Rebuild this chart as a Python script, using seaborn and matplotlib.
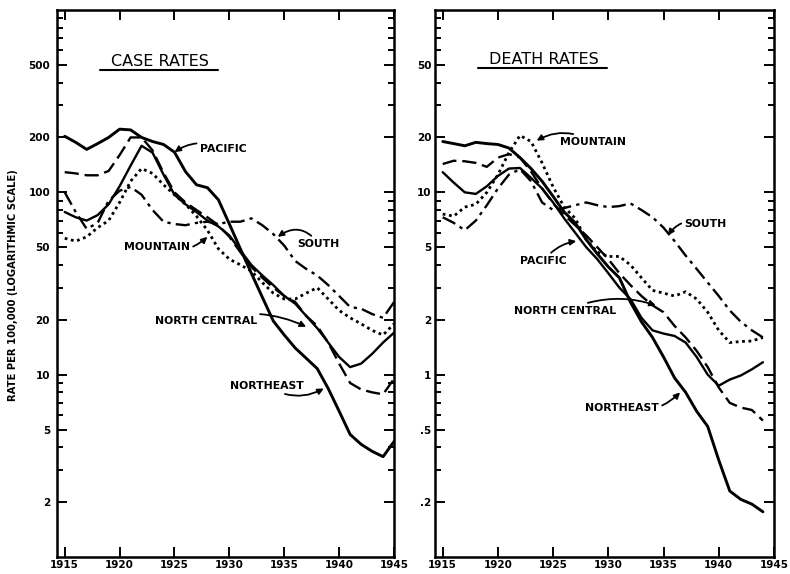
import matplotlib
matplotlib.use("Agg")
import matplotlib.pyplot as plt
import pandas as pd
import seaborn as sns
from matplotlib.lines import Line2D
from matplotlib.ticker import NullFormatter

# ---- data (rate per 100,000) ----
case_years = list(range(1915, 1946))
death_years = list(range(1915, 1945))

case_northeast = [203, 188, 172, 185, 200, 222, 220, 200, 190, 183, 166, 130, 110, 106, 91,
                  67, 49, 36, 26.6, 19.7, 16.5, 14, 12.3, 10.8, 8.4, 6.3, 4.7, 4.15, 3.8, 3.55, 4.3]
case_north_central = [129, 127, 124, 124, 131, 160, 200, 200, 170, 128, 100, 88, 80, 73, 66,
                      57, 47, 39, 34, 30, 27, 25, 21, 18.5, 15, 11.5, 9, 8.3, 8, 7.8, 9.5]
case_south = [100, 78, 63, 68, 90, 102, 107, 97, 80, 69, 67, 66, 68, 69, 67,
              69, 69, 72, 66, 59, 51, 42, 38, 35, 31, 27, 23.5, 23, 21.5, 20.5, 25]
case_mountain = [56, 54, 57, 64, 70, 88, 115, 135, 127, 110, 97, 86, 74, 62, 49,
                 43, 40, 37, 32, 28, 26, 26, 28, 30, 26, 22.5, 20.5, 19, 17.5, 16.5, 19]
case_pacific = [78, 73, 70, 75, 86, 108, 140, 180, 165, 125, 97, 86, 78, 70, 65,
                58, 48, 40, 35, 31, 27, 24.5, 21, 18, 15, 12.5, 11, 11.5, 13, 15, 17]

death_northeast = [19, 18.5, 18, 18.8, 18.5, 18.3, 17.5, 15.5, 13.5, 11.5, 9.5, 7.8, 6.8, 5.5, 4.6,
                   3.9, 3.4, 2.5, 1.95, 1.6, 1.25, 0.96, 0.8, 0.63, 0.52, 0.34, 0.23, 0.207, 0.195, 0.177]
death_north_central = [14.3, 14.9, 14.8, 14.5, 13.8, 15.5, 16.2, 15.5, 13, 10.5, 8.7, 7.5, 6.6, 5.8, 5.0,
                       4.3, 3.6, 3.1, 2.7, 2.4, 2.2, 1.85, 1.6, 1.35, 1.1, 0.85, 0.7, 0.66, 0.64, 0.56]
death_south = [7.3, 6.8, 6.2, 7.0, 8.5, 10.5, 12.5, 13.4, 11.5, 8.8, 8.0, 8.2, 8.5, 8.8, 8.5,
               8.3, 8.4, 8.7, 8.0, 7.3, 6.4, 5.4, 4.5, 3.8, 3.2, 2.7, 2.25, 1.95, 1.75, 1.6]
death_mountain = [7.6, 7.4, 8.3, 8.6, 10, 12.5, 16.5, 20.5, 19, 14.5, 10.7, 8.3, 7.2, 5.5, 4.7,
                  4.45, 4.45, 4.0, 3.4, 2.9, 2.8, 2.7, 2.85, 2.6, 2.2, 1.75, 1.5, 1.52, 1.53, 1.6]
death_pacific = [12.9, 11.3, 10, 9.8, 10.8, 12.3, 13.5, 13.6, 12, 10.5, 8.8, 7.2, 6.0, 5.0, 4.3,
                 3.6, 3.0, 2.6, 2.05, 1.75, 1.68, 1.63, 1.5, 1.25, 1.0, 0.87, 0.94, 0.99, 1.07, 1.17]

case_ticks = [2, 5, 10, 20, 50, 100, 200, 500]
case_labels = ["2", "5", "10", "20", "50", "100", "200", "500"]
death_ticks = [0.2, 0.5, 1, 2, 5, 10, 20, 50]
death_labels = [".2", ".5", "1", "2", "5", "10", "20", "50"]
year_ticks = [1915, 1920, 1925, 1930, 1935, 1940, 1945]

case = {"Northeast": case_northeast, "North Central": case_north_central,
        "South": case_south, "Mountain": case_mountain, "Pacific": case_pacific}
death = {"Northeast": death_northeast, "North Central": death_north_central,
         "South": death_south, "Mountain": death_mountain, "Pacific": death_pacific}

styles = {
    "Northeast": dict(linewidth=2.1, linestyle="-"),
    "Pacific": dict(linewidth=1.7, linestyle="-"),
    "North Central": dict(linewidth=1.7, linestyle=(0, (6, 2.5))),
    "South": dict(linewidth=1.7, linestyle=(0, (6, 2.2, 1.4, 2.2))),
    "Mountain": dict(linewidth=2.0, linestyle=(0, (1, 1.3))),
}


def long_form(years, table):
    frames = [pd.DataFrame({"year": years, "rate": vals, "region": name})
              for name, vals in table.items()]
    return pd.concat(frames, ignore_index=True)


def style_axis(ax, ticks, labels, lo, pad):
    ax.set_yscale("log")
    ax.set_ylim(lo, lo * 1000)
    ax.set_xlim(1914.3, 1945.0)
    decades = [lo, lo * 10, lo * 100]
    minor = [m * d for d in decades for m in (3, 4, 6, 7, 8, 9)]
    ax.set_yticks(ticks)
    ax.set_yticklabels(labels)
    ax.set_yticks(minor, minor=True)
    ax.yaxis.set_minor_formatter(NullFormatter())
    ax.set_xticks(year_ticks)
    ax.set_xticklabels([str(y) for y in year_ticks])
    ax.tick_params(which="both", direction="in", top=True, right=True,
                   bottom=True, left=True, width=1.4, color="black",
                   labelcolor="black")
    ax.tick_params(which="major", length=7)
    ax.tick_params(which="minor", length=4.5)
    ax.tick_params(axis="x", pad=2.5)
    ax.tick_params(axis="y", pad=pad)
    for lab in ax.get_xticklabels() + ax.get_yticklabels():
        lab.set_fontweight("bold")
        lab.set_fontsize(7.5)
    for sp in ax.spines.values():
        sp.set_linewidth(1.8)
        sp.set_color("black")
    ax.set_xlabel("")
    ax.set_ylabel("")
    ax.grid(False)


def title(ax, text, x, y, x0, x1, yl):
    ax.text(x, y, text, transform=ax.transAxes, ha="center", va="center",
            fontsize=11.5, color="black")
    ax.add_line(Line2D([x0, x1], [yl, yl], transform=ax.transAxes,
                       color="black", linewidth=1.5))


def tag(ax, text, xytext, xy, ha, rad):
    ax.annotate(text, xy=xy, xytext=xytext, ha=ha, va="center",
                fontsize=7.8, fontweight="bold", color="black",
                arrowprops=dict(arrowstyle="-|>,head_length=0.45,head_width=0.22",
                                color="black", lw=1.3, shrinkA=0, shrinkB=0,
                                connectionstyle=f"arc3,rad={rad}"))


sns.set_style("ticks")
plt.rcParams["font.family"] = ["DejaVu Sans"]
plt.rcParams["text.color"] = "black"

fig = plt.figure(figsize=(7.9, 5.74), dpi=100)
ax_case = fig.add_axes([0.0722, 0.0296, 0.4266, 0.953])
ax_death = fig.add_axes([0.5506, 0.0296, 0.4291, 0.953])

case_df = long_form(case_years, case)
death_df = long_form(death_years, death)

for name in case:
    sns.lineplot(data=case_df[case_df["region"] == name], x="year", y="rate",
                 color="black", errorbar=None, ax=ax_case, **styles[name])
    sns.lineplot(data=death_df[death_df["region"] == name], x="year", y="rate",
                 color="black", errorbar=None, ax=ax_death, **styles[name])

style_axis(ax_case, case_ticks, case_labels, 1, 5)
style_axis(ax_death, death_ticks, death_labels, 0.1, 2.5)

title(ax_case, "CASE RATES", 0.306, 0.905, 0.128, 0.478, 0.891)
title(ax_death, "DEATH RATES", 0.322, 0.909, 0.127, 0.507, 0.894)

tag(ax_case, "PACIFIC", (1927.3, 173), (1925.0, 166), "left", 0.3)
tag(ax_case, "SOUTH", (1936.2, 52), (1934.4, 57), "left", 0.5)
tag(ax_case, "MOUNTAIN", (1926.4, 50), (1928.0, 57), "right", 0.3)
tag(ax_case, "NORTH CENTRAL", (1932.5, 19.7), (1937.0, 18.3), "right", -0.2)
tag(ax_case, "NORTHEAST", (1936.8, 8.7), (1938.6, 8.4), "right", 0.3)

tag(ax_death, "MOUNTAIN", (1925.6, 18.8), (1923.5, 19.2), "left", 0.3)
tag(ax_death, "SOUTH", (1936.9, 6.7), (1935.4, 5.8), "left", 0.4)
tag(ax_death, "PACIFIC", (1922.0, 4.2), (1927.1, 5.4), "left", -0.2)
tag(ax_death, "NORTH CENTRAL", (1921.5, 2.23), (1934.3, 2.4), "left", -0.2)
tag(ax_death, "NORTHEAST", (1927.9, 0.66), (1936.5, 0.8), "left", 0.3)

fig.text(0.016, 0.503, "RATE PER 100,000 (LOGARITHMIC SCALE)", rotation=90,
         ha="center", va="center", fontsize=7.2, fontweight="bold", color="black")

fig.savefig("out.png", dpi=100)
